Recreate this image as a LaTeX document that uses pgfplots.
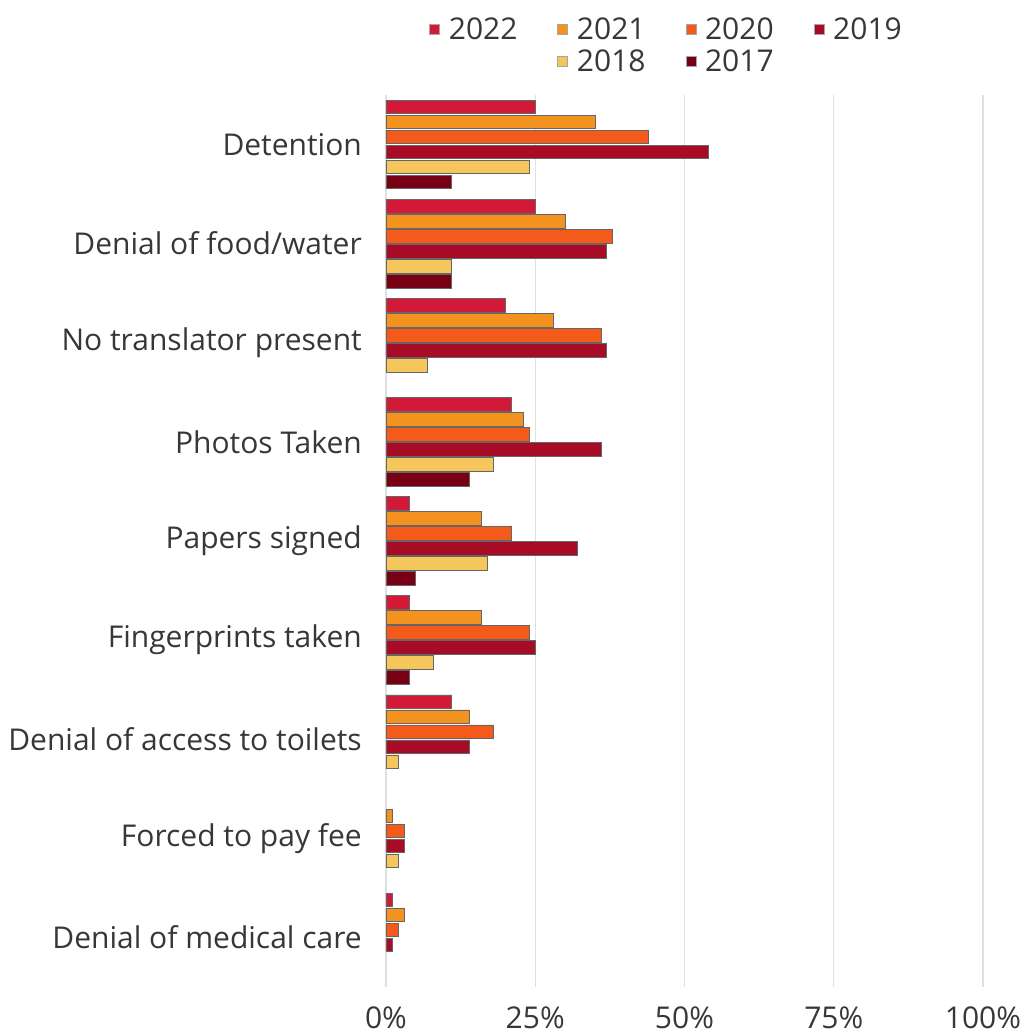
\documentclass[border=0pt]{standalone}
\usepackage{pgfplots}
\pgfplotsset{compat=1.18}
\usepackage{fontspec}
\setmainfont{Open Sans}
\definecolor{cA}{RGB}{210,26,56}
\definecolor{cB}{RGB}{243,146,30}
\definecolor{cC}{RGB}{244,90,26}
\definecolor{cD}{RGB}{168,11,37}
\definecolor{cE}{RGB}{244,198,91}
\definecolor{cF}{RGB}{120,0,20}
\definecolor{txt}{RGB}{55,55,55}
\begin{document}
\begin{tikzpicture}[font=\fontsize{30}{34}\selectfont]
\begin{axis}[
  name=ax,
  scale only axis,
  width=597pt, height=892pt,
  xbar,
  bar width=13.5pt,
  xmin=0, xmax=100,
  ymin=-0.5, ymax=8.5,
  axis line style={draw=none},
  xtick={0,25,50,75,100},
  xticklabels={0\%,25\%,50\%,75\%,100\%},
  ytick={0,1,2,3,4,5,6,7,8},
  yticklabels={Denial of medical care,Forced to pay fee,Denial of access to toilets,Fingerprints taken,Papers signed,Photos Taken,No translator present,Denial of food/water,Detention},
  major tick length=0pt,
  tick style={draw=none},
  xmajorgrids,
  grid style={black!12, line width=1.3pt},
  tick label style={text=txt, inner sep=0pt},
  yticklabel style={xshift=-24pt},
  xticklabel style={yshift=-20pt},
  every axis plot/.append style={draw=black!60, line width=0.8pt},
  legend image code/.code={\draw[#1, line width=0.5pt, draw=black!35] (0pt,-5pt) rectangle (10pt,5pt);},
  legend columns=4,
  legend style={draw=none, at={(0.47,1.022)}, anchor=south, font=\fontsize{30}{34}\selectfont, text=txt,
    /tikz/every odd column/.append style={column sep=7pt},
    /tikz/every even column/.append style={column sep=38pt},
    row sep=5pt, inner sep=0pt},
]
\addplot[fill=cA, bar shift=37.5pt] coordinates {(25,8) (25,7) (20,6) (21,5) (4,4) (4,3) (11,2) (1,0)};
\addlegendentry{2022}
\addplot[fill=cB, bar shift=22.5pt] coordinates {(35,8) (30,7) (28,6) (23,5) (16,4) (16,3) (14,2) (1,1) (3,0)};
\addlegendentry{2021}
\addplot[fill=cC, bar shift=7.5pt] coordinates {(44,8) (38,7) (36,6) (24,5) (21,4) (24,3) (18,2) (3,1) (2,0)};
\addlegendentry{2020}
\addplot[fill=cD, bar shift=-7.5pt] coordinates {(54,8) (37,7) (37,6) (36,5) (32,4) (25,3) (14,2) (3,1) (1,0)};
\addlegendentry{2019}
\addlegendimage{empty legend}
\addlegendentry{}
\addplot[fill=cE, bar shift=-22.5pt] coordinates {(24,8) (11,7) (7,6) (18,5) (17,4) (8,3) (2,2) (2,1)};
\addlegendentry{2018}
\addplot[fill=cF, bar shift=-37.5pt] coordinates {(11,8) (11,7) (14,5) (5,4) (4,3)};
\addlegendentry{2017}
\end{axis}
\path (ax.south west) ++(-386pt,-48pt) rectangle ++(1027pt,1035pt);
\end{tikzpicture}
\end{document}
